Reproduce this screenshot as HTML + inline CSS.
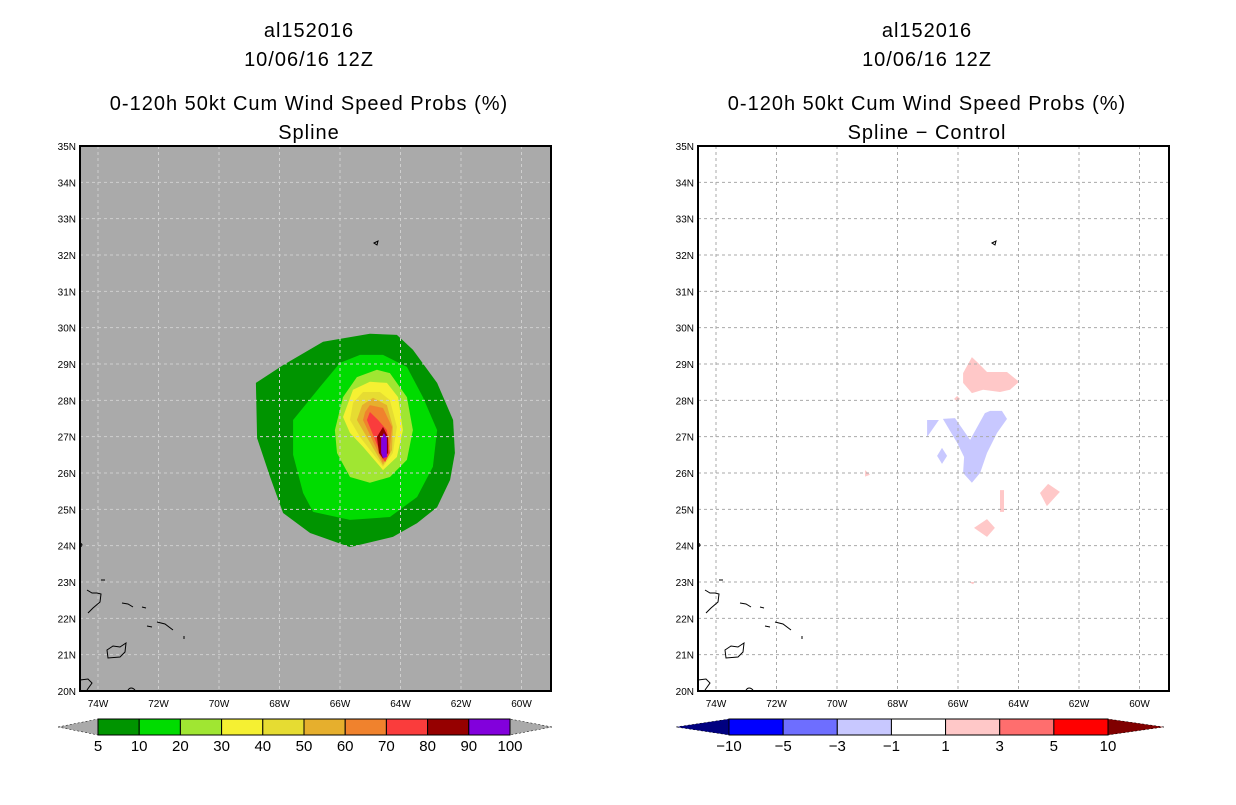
<!DOCTYPE html>
<html><head><meta charset="utf-8"><style>
body{margin:0;background:#fff;width:1236px;height:800px;overflow:hidden}
svg text{font-family:"Liberation Sans",sans-serif;fill:#000}
</style></head><body>
<svg id="c" width="1236" height="800" xmlns="http://www.w3.org/2000/svg"></svg>
<script>
const NS="http://www.w3.org/2000/svg";
const svg=document.getElementById('c');
const latTicks=[20,21,22,23,24,25,26,27,28,29,30,31,32,33,34,35];
const lonTicks=[-74,-72,-70,-68,-66,-64,-62,-60];
const probLevels=[5,10,20,30,40,50,60,70,80,90,100];
const probColors=["#009400","#00dc00","#a0e632","#f5f032","#e6dc32","#e6af2d","#f0822d","#fa3c3c","#960000","#8200dc"];
const diffLevels=[-10,-5,-3,-1,1,3,5,10];
const diffColors=["#0000ff","#6e6eff","#c8c8ff","#ffffff","#ffc8c8","#ff6e6e","#ff0000"];
// probability contours (lon,lat) per level index
const probContours=[
 [[-68.78,28.48],[-68.74,26.96],[-68.31,25.89],[-67.88,24.90],[-66.99,24.35],[-65.67,23.96],[-64.25,24.24],[-63.45,24.62],[-62.79,25.06],[-62.36,25.81],[-62.20,26.55],[-62.26,27.46],[-62.79,28.48],[-63.59,29.39],[-64.12,29.80],[-65.01,29.83],[-66.56,29.61],[-67.88,28.97]],
 [[-67.55,27.46],[-67.55,26.50],[-67.22,25.45],[-66.89,24.93],[-65.67,24.71],[-64.35,24.79],[-63.45,25.34],[-62.93,26.17],[-62.79,27.18],[-63.26,28.09],[-63.79,28.92],[-64.58,29.25],[-65.34,29.25],[-66.00,29.03],[-66.66,28.37]],
 [[-66.17,27.18],[-66.10,26.55],[-65.67,25.89],[-65.01,25.73],[-64.35,25.89],[-63.79,26.36],[-63.59,27.18],[-63.79,28.09],[-64.35,28.75],[-64.78,28.84],[-65.44,28.64],[-65.90,28.09]],
 [[-65.90,27.54],[-65.67,27.10],[-65.24,26.72],[-64.58,26.08],[-64.12,26.44],[-63.92,27.18],[-64.08,28.09],[-64.45,28.48],[-65.01,28.51],[-65.57,28.29]],
 [[-65.67,27.46],[-65.34,26.99],[-64.58,26.17],[-64.25,26.55],[-64.12,27.27],[-64.35,28.01],[-64.68,28.23],[-65.24,28.23],[-65.57,27.93]],
 [[-65.44,27.46],[-64.58,26.22],[-64.28,26.63],[-64.25,27.27],[-64.45,27.87],[-64.91,28.07],[-65.27,27.87]],
 [[-65.24,27.46],[-64.58,26.28],[-64.35,26.72],[-64.28,27.27],[-64.58,27.79],[-65.01,27.87],[-65.17,27.68]],
 [[-65.11,27.46],[-65.01,27.68],[-64.74,27.46],[-64.45,27.18],[-64.35,26.55],[-64.51,26.30],[-64.61,26.44],[-64.84,26.91]],
 [[-64.78,26.99],[-64.58,27.27],[-64.41,26.99],[-64.41,26.55],[-64.58,26.39],[-64.71,26.55]],
 [[-64.64,26.96],[-64.55,27.10],[-64.45,26.96],[-64.45,26.44],[-64.58,26.41],[-64.64,26.55]]
];
// difference contours: [colorIndex, polygon]
const diffBlobs=[
 [4,[[-65.54,29.19],[-65.83,28.75],[-65.83,28.48],[-65.54,28.20],[-65.17,28.29],[-64.61,28.23],[-64.28,28.29],[-63.98,28.51],[-64.38,28.78],[-64.71,28.78],[-65.04,28.78],[-65.34,29.03]]],
 [2,[[-66.50,27.49],[-66.10,27.51],[-65.60,26.91],[-65.11,27.65],[-64.94,27.71],[-64.55,27.71],[-64.38,27.49],[-64.71,27.10],[-65.04,26.55],[-65.27,26.00],[-65.54,25.73],[-65.83,26.00],[-65.80,26.44],[-66.03,26.83]]],
 [2,[[-67.02,27.46],[-66.63,27.46],[-67.02,26.99]]],
 [2,[[-66.53,26.69],[-66.36,26.47],[-66.53,26.25],[-66.69,26.47]]],
 [4,[[-66.03,28.12],[-65.93,28.04],[-66.03,27.96],[-66.13,28.04]]],
 [4,[[-63.02,25.70],[-62.63,25.48],[-63.06,25.09],[-63.29,25.45]]],
 [4,[[-64.61,25.53],[-64.48,25.53],[-64.48,24.93],[-64.61,24.93]]],
 [4,[[-65.04,24.73],[-64.78,24.49],[-65.04,24.24],[-65.47,24.49]]],
 [4,[[-65.65,23.00],[-65.45,23.00],[-65.50,22.94]]],
 [4,[[-69.07,26.08],[-68.91,25.95],[-69.07,25.90]]]
];
const Y0=146,Y1=691;
function el(tag,attrs,parent){const e=document.createElementNS(NS,tag);for(const k in attrs)e.setAttribute(k,attrs[k]);(parent||svg).appendChild(e);return e;}
function makePanel(px,bg,name){
 const fx=px-18; // frame left
 const xs=lon=>px+(lon+74)*30.25;
 const ys=lat=>Y1-(lat-20)*36.333;
 const g=el('g',{});
 
 
 const bgr=el('rect',{x:fx,y:Y0,width:471,height:545,fill:bg},g);
 
 
 return {g,xs,ys,fx};
}
function gridAxes(P,gridColor){
 const {g,xs,ys,fx}=P;
 lonTicks.forEach(l=>{const x=xs(l);
  const ln=el('line',{x1:x,x2:x,y1:Y0,y2:Y1,stroke:gridColor,'stroke-width':1,'stroke-dasharray':'3,3'},g);
  
  const t=el('text',{x:x,y:707,'font-size':10,'text-anchor':'middle'},g);t.textContent=(-l)+'W';
  });
 latTicks.forEach(l=>{const y=ys(l);
  const ln=el('line',{x1:fx,x2:fx+471,y1:y,y2:y,stroke:gridColor,'stroke-width':1,'stroke-dasharray':'3,3'},g);
  
  const t=el('text',{x:fx-4,y:y+4,'font-size':10,'text-anchor':'end'},g);t.textContent=l+'N';
  });
}
function coast(P){
 const {g,fx}=P,o=fx-80;
 const paths=["M87 590 L92 593 L97 593 L101 594 L100 602 L93 608 L88 613","M122 603 L128 604 L133 607","M157 622 L165 624 L173 630","M147 626 L152 627","M107 650 L113 646 L120 647 L126 643 L125 652 L120 657 L108 658 Z","M80 680 L88 679 L92 683 L87 690","M128 690 Q131 686 135 690","M101 580 L105 580","M374 243 L378 241 L377 245 Z","M80 543 Q84 545 80 547","M184 636 L184 639","M142 607 L146 608"];
 paths.forEach(d=>{const p=el('path',{d:d,fill:'none',stroke:'#000','stroke-width':1,transform:'translate('+o+',0)'},g);
  });
}
function poly(P,pts,fill){return el('polygon',{points:pts.map(p=>P.xs(p[0]).toFixed(1)+','+P.ys(p[1]).toFixed(1)).join(' '),fill:fill},P.g);}
function titles(cx,line4){
 [['al152016',37,'title-storm-id'],['10/06/16 12Z',66,'title-date'],['0-120h 50kt Cum Wind Speed Probs (%)',110,'title-product'],[line4,139,'title-subtitle']].forEach(a=>{
  const t=el('text',{x:cx,y:a[1],'font-size':20,'text-anchor':'middle','letter-spacing':'1'});t.textContent=a[0];
  });
}
function colorbar(x0,x1,xl,xr,levels,colors,leftCol,rightCol,name){
 const g=el('g',{});
 const n=colors.length,w=(x1-x0)/n;
 el('polygon',{points:`${xl},727 ${x0},719 ${x0},735`,fill:leftCol,stroke:'#000','stroke-width':0.5,'stroke-dasharray':'2,2'},g);
 el('polygon',{points:`${xr},727 ${x1},719 ${x1},735`,fill:rightCol,stroke:'#000','stroke-width':0.5,'stroke-dasharray':'2,2'},g);
 colors.forEach((c,i)=>{const r=el('rect',{x:x0+i*w,y:719,width:w,height:16,fill:c,stroke:'#000','stroke-width':1},g);
  });
 levels.forEach((l,i)=>{const t=el('text',{x:x0+i*w,y:751,'font-size':15,'text-anchor':'middle'},g);t.textContent=String(l).replace('-','\u2212');
  });
}
// left panel
const L=makePanel(98,'#aaaaaa','left-map-panel');
probContours.forEach((pts,i)=>{const p=poly(L,pts,probColors[i]);
 });
gridAxes(L,'#cfcfcf');coast(L);
el('rect',{x:L.fx,y:Y0,width:471,height:545,fill:'none',stroke:'#000','stroke-width':2},L.g);
titles(309,'Spline');
colorbar(98,510,58,552,probLevels,probColors,'#aaaaaa','#aaaaaa','left-colorbar');
// right panel
const R=makePanel(716,'#ffffff','right-map-panel');
diffBlobs.forEach(b=>{const p=poly(R,b[1],diffColors[b[0]]);
 });
gridAxes(R,'#aaaaaa');coast(R);
el('rect',{x:R.fx,y:Y0,width:471,height:545,fill:'none',stroke:'#000','stroke-width':2},R.g);
titles(927,'Spline \u2212 Control');
colorbar(729,1108,676,1164,diffLevels,diffColors,'#000080','#800000','right-colorbar');
</script>
</body></html>
